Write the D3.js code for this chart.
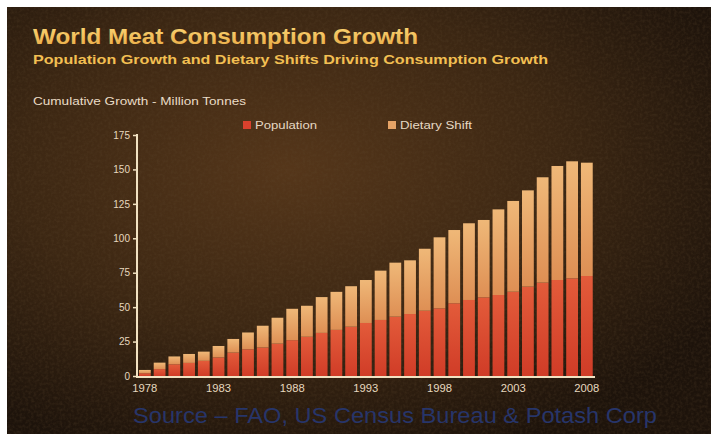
<!DOCTYPE html>
<html>
<head>
<meta charset="utf-8">
<script src="https://cdn.jsdelivr.net/npm/d3@7"></script>
<style>
  html, body { margin: 0; padding: 0; background: #fff; }
  svg { display: block; }
  text { font-family: "Liberation Sans", Arial, sans-serif; }
</style>
</head>
<body>
<script>
// cumulative growth since 1977, million tonnes
var years = d3.range(1978, 2009);
var population = [2, 5, 8.5, 9.5, 11, 13.5, 17, 19.4, 20.7, 23.5, 26, 28.5, 31.3, 33.5, 35.8, 38.5,
  40.7, 43.1, 45, 47.4, 49.1, 52.8, 55.2, 57.1, 58.8, 61.2, 64.9, 67.8, 69.7, 70.9, 72.6];
var dietaryShift = [2.4, 4.7, 5.7, 6.5, 6.7, 8.3, 9.9, 12.2, 15.8, 18.8, 22.8, 22.5, 26, 27.6, 29.4, 31.2,
  35.8, 39.2, 39, 45, 51.6, 53.2, 55.7, 56.2, 62.2, 65.9, 69.9, 76.5, 82.8, 85, 82.3];
var yTicks = [0, 25, 50, 75, 100, 125, 150, 175];
var xTickYears = [1978, 1983, 1988, 1993, 1998, 2003, 2008];
var seriesNames = ["Population", "Dietary Shift"];

var width = 711, height = 434;
var svg = d3.select("body").append("svg").attr("width", width).attr("height", height);
var defs = svg.append("defs");

// background: dark brown, lighter towards upper middle, fine grain on top
var bg = defs.append("radialGradient").attr("id", "bg").attr("cx", "40%").attr("cy", "38%").attr("r", "70%");
bg.append("stop").attr("offset", "0%").attr("stop-color", "#55361a");
bg.append("stop").attr("offset", "55%").attr("stop-color", "#3c2713");
bg.append("stop").attr("offset", "100%").attr("stop-color", "#1d130b");

var grain = defs.append("filter").attr("id", "grain").attr("x", 0).attr("y", 0).attr("width", "100%").attr("height", "100%");
grain.append("feTurbulence").attr("type", "fractalNoise").attr("baseFrequency", 0.35).attr("numOctaves", 2).attr("seed", 7);
grain.append("feColorMatrix").attr("values", "0 0 0 0 0.12  0 0 0 0 0.07  0 0 0 0 0.03  0 0 0 0.8 -0.3");

var popGrad = defs.append("linearGradient").attr("id", "popGrad").attr("x1", 0).attr("y1", 1).attr("x2", 0).attr("y2", 0);
popGrad.append("stop").attr("offset", "0%").attr("stop-color", "#d03c27");
popGrad.append("stop").attr("offset", "100%").attr("stop-color", "#e35b3a");
var dietGrad = defs.append("linearGradient").attr("id", "dietGrad").attr("x1", 0).attr("y1", 1).attr("x2", 0).attr("y2", 0);
dietGrad.append("stop").attr("offset", "0%").attr("stop-color", "#de8f54");
dietGrad.append("stop").attr("offset", "100%").attr("stop-color", "#efb878");
var titleGrad = defs.append("linearGradient").attr("id", "titleGrad").attr("x1", 0).attr("y1", 0).attr("x2", 0).attr("y2", 1);
titleGrad.append("stop").attr("offset", "0%").attr("stop-color", "#fbd978");
titleGrad.append("stop").attr("offset", "100%").attr("stop-color", "#e9a843");

svg.append("rect").attr("x", 7).attr("y", 7).attr("width", width - 7).attr("height", height - 7).attr("fill", "url(#bg)");
svg.append("rect").attr("x", 7).attr("y", 7).attr("width", width - 7).attr("height", height - 7)
  .attr("filter", "url(#grain)").attr("opacity", 0.6);

// the slide looks stretched sideways, so texts get a fixed length
function wideText(sel, len) {
  return sel.attr("textLength", len).attr("lengthAdjust", "spacingAndGlyphs");
}

// titles
wideText(svg.append("text").attr("x", 33).attr("y", 44).text("World Meat Consumption Growth")
  .attr("font-size", 22).attr("font-weight", "bold").attr("fill", "url(#titleGrad)"), 385);
wideText(svg.append("text").attr("x", 33).attr("y", 64).text("Population Growth and Dietary Shifts Driving Consumption Growth")
  .attr("font-size", 13).attr("font-weight", "bold").attr("fill", "#f2bf52"), 515);
wideText(svg.append("text").attr("x", 33).attr("y", 105).text("Cumulative Growth - Million Tonnes")
  .attr("font-size", 10).attr("fill", "#eadcc6"), 213);

// scales
var x = d3.scaleBand().domain(years).range([137.5, 594.2]).paddingInner(0.2).paddingOuter(0.1);
var y = d3.scaleLinear().domain([0, 175]).range([376, 135]);

var table = years.map(function(yr, i) {
  return { year: yr, "Population": population[i], "Dietary Shift": dietaryShift[i] };
});
var stacked = d3.stack().keys(seriesNames)(table);
var fills = { "Population": "url(#popGrad)", "Dietary Shift": "url(#dietGrad)" };

svg.append("g").selectAll("g")
  .data(stacked)
  .enter().append("g")
  .attr("fill", function(s) { return fills[s.key]; })
  .selectAll("rect")
  .data(function(s) { return s; })
  .enter().append("rect")
  .attr("x", function(d) { return x(d.data.year); })
  .attr("width", x.bandwidth())
  .attr("y", function(d) { return y(d[1]); })
  .attr("height", function(d) { return y(d[0]) - y(d[1]); });

// axes
var axisColor = "#f2e2c2";
var yAxis = svg.append("g").attr("transform", "translate(137,0)")
  .call(d3.axisLeft(y).tickValues(yTicks).tickSize(4).tickPadding(3));
var xAxis = svg.append("g").attr("transform", "translate(0,377)")
  .call(d3.axisBottom(x).tickValues(xTickYears).tickSize(0).tickPadding(8));

[yAxis, xAxis].forEach(function(ax) {
  ax.select(".domain").remove();
  ax.selectAll("line").attr("stroke", axisColor).attr("stroke-width", 1.5);
  ax.selectAll("text").attr("fill", "#e6d8bf").attr("font-size", 10)
    .attr("font-family", "'Liberation Sans', Arial, sans-serif");
});
xAxis.selectAll("text").attr("textLength", 25).attr("lengthAdjust", "spacingAndGlyphs");
svg.append("line").attr("x1", 137).attr("x2", 137).attr("y1", 134).attr("y2", 377)
  .attr("stroke", axisColor).attr("stroke-width", 2);
svg.append("line").attr("x1", 136).attr("x2", 595).attr("y1", 377).attr("y2", 377)
  .attr("stroke", axisColor).attr("stroke-width", 2);

// legend
var legendLen = [62, 72];
var legend = svg.append("g").selectAll("g")
  .data(seriesNames)
  .enter().append("g")
  .attr("transform", function(d, i) { return "translate(" + [243 + i * 145, 125] + ")"; });
legend.append("rect").attr("x", 0).attr("y", -4).attr("width", 8).attr("height", 8)
  .attr("fill", function(d, i) { return i === 0 ? "#d8412d" : "#e6a366"; });
legend.append("text").attr("x", 12).attr("y", 3.5).text(function(d) { return d; })
  .attr("font-size", 10).attr("fill", "#e6d8c2")
  .attr("textLength", function(d, i) { return legendLen[i]; }).attr("lengthAdjust", "spacingAndGlyphs");

// source line
wideText(svg.append("text").attr("x", 133).attr("y", 423)
  .text("Source \u2013 FAO, US Census Bureau & Potash Corp")
  .attr("font-size", 22).attr("fill", "#27356a"), 524);
</script>
</body>
</html>
